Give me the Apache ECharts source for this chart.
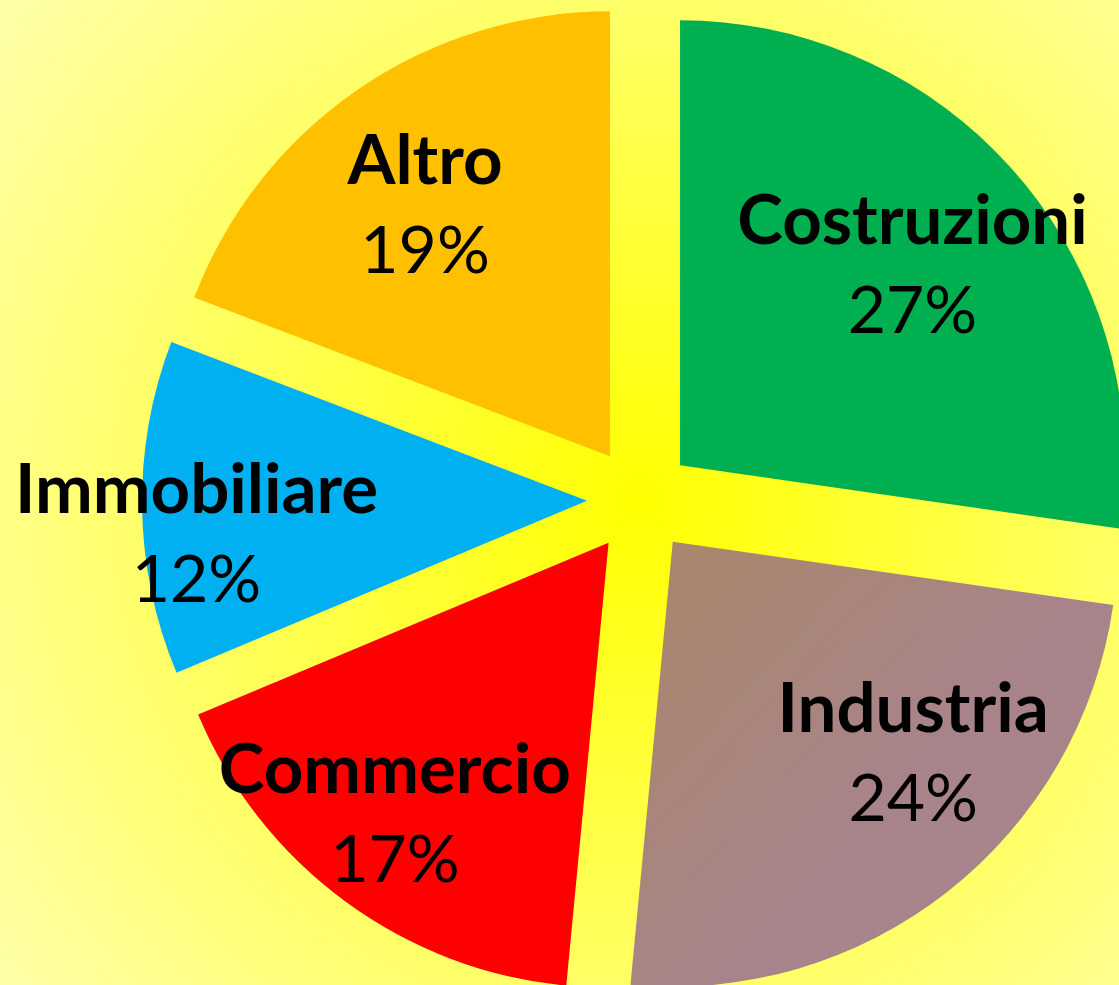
<!DOCTYPE html>
<html>
<head>
<meta charset="utf-8">
<script src="https://cdn.jsdelivr.net/npm/echarts@6/dist/echarts.min.js"></script>
<style>
  html, body { margin: 0; padding: 0; }
  #chart { width: 1119px; height: 985px; }
</style>
</head>
<body>
<div id="chart"></div>
<script>
// settori e quote (%)
const categories = ['Costruzioni', 'Industria', 'Commercio', 'Immobiliare', 'Altro'];
const shares = [27, 24, 17, 12, 19];
const sliceColors = [
  '#00B050',
  { type: 'linear', x: 0, y: 0, x2: 1, y2: 1, colorStops: [{ offset: 0, color: '#A98668' }, { offset: 0.55, color: '#A8848A' }, { offset: 1, color: '#A7838D' }] },
  '#FF0000',
  '#00B0F0',
  '#FFC000'
];
// spostamento etichette rispetto alla posizione "inside"
const labelShift = [[62, -51], [101, 36], [-80, 91], [-165, 31], [-57, -64]];

const chart = echarts.init(document.getElementById('chart'));
const option = {
  animation: false,
  backgroundColor: {
    type: 'radial', x: 640, y: 500, r: 820, global: true,
    colorStops: [{ offset: 0, color: '#FFFF00' }, { offset: 1, color: '#FFFFAC' }]
  },
  series: [{
    type: 'pie',
    center: [640, 500],
    radius: [0, 445],
    startAngle: 90,
    clockwise: true,
    selectedMode: 'multiple',
    selectedOffset: 53,
    emphasis: { scale: false },
    data: categories.map((name, i) => ({
      name: name,
      value: shares[i],
      selected: true,
      itemStyle: { color: sliceColors[i] }
    })),
    label: {
      position: 'inside',
      formatter: '{n|{b}}\n{p|{c}%}',
      rich: {
        n: { fontFamily: 'Lato', fontWeight: 'bold', fontSize: 69, lineHeight: 90, color: '#000' },
        p: { fontFamily: 'Lato', fontWeight: 'normal', fontSize: 66, lineHeight: 90, color: '#000' }
      }
    },
    labelLine: { show: false },
    labelLayout: params => ({ dx: labelShift[params.dataIndex][0], dy: labelShift[params.dataIndex][1] })
  }]
};
chart.setOption(option);
</script>
</body>
</html>
